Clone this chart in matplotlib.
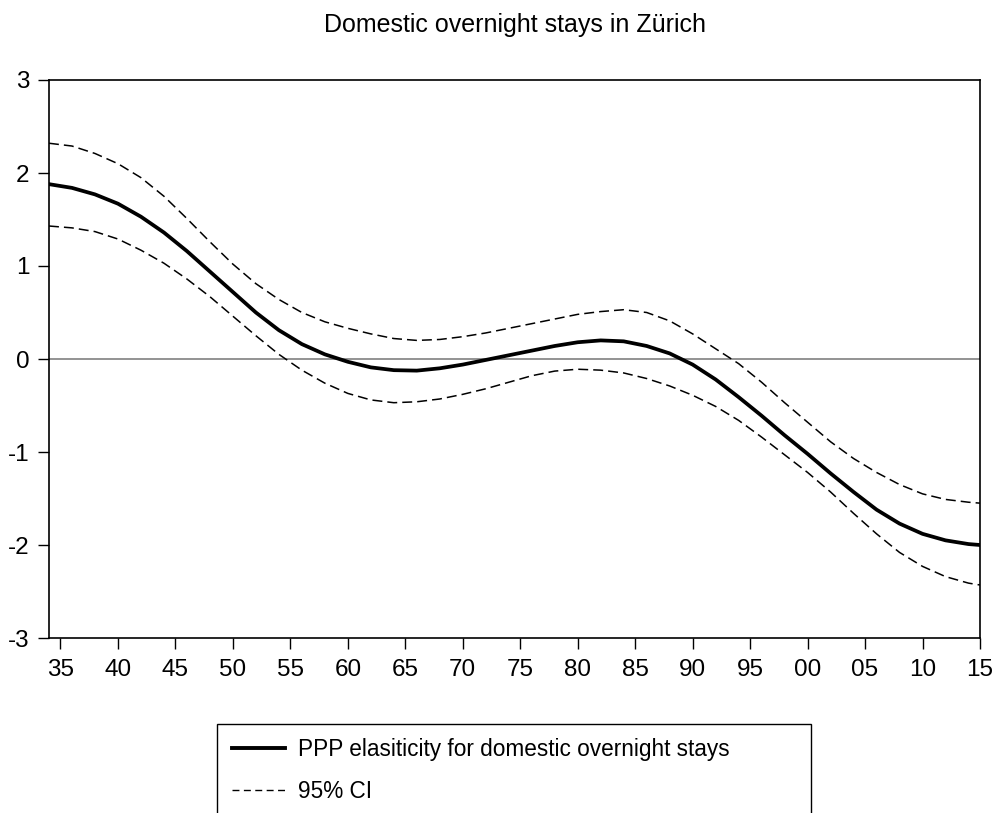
import matplotlib
matplotlib.use("Agg")
import matplotlib.pyplot as plt
from matplotlib.lines import Line2D
from matplotlib.patches import Rectangle

years = [1934, 1936, 1938, 1940, 1942, 1944, 1946, 1948, 1950, 1952, 1954, 1956, 1958, 1960,
         1962, 1964, 1966, 1968, 1970, 1972, 1974, 1976, 1978, 1980, 1982, 1984, 1986, 1988,
         1990, 1992, 1994, 1996, 1998, 2000, 2002, 2004, 2006, 2008, 2010, 2012, 2014, 2015]
elasticity = [1.88, 1.84, 1.77, 1.67, 1.53, 1.36, 1.16, 0.94, 0.72, 0.50, 0.31, 0.16, 0.05, -0.03,
              -0.09, -0.12, -0.125, -0.10, -0.06, -0.01, 0.04, 0.09, 0.14, 0.18, 0.20, 0.19, 0.14, 0.06,
              -0.06, -0.22, -0.41, -0.61, -0.82, -1.02, -1.23, -1.43, -1.62, -1.77, -1.88, -1.95, -1.99, -2.00]
ci_upper = [2.32, 2.29, 2.21, 2.10, 1.95, 1.75, 1.51, 1.26, 1.02, 0.81, 0.64, 0.50, 0.40, 0.33,
            0.27, 0.22, 0.20, 0.21, 0.24, 0.28, 0.33, 0.38, 0.43, 0.48, 0.51, 0.53, 0.50, 0.41,
            0.27, 0.11, -0.05, -0.25, -0.47, -0.68, -0.89, -1.07, -1.22, -1.35, -1.45, -1.51, -1.54, -1.55]
ci_lower = [1.43, 1.41, 1.37, 1.29, 1.17, 1.03, 0.86, 0.67, 0.46, 0.25, 0.05, -0.12, -0.26, -0.37,
            -0.44, -0.47, -0.46, -0.43, -0.38, -0.32, -0.25, -0.18, -0.13, -0.11, -0.12, -0.15, -0.21, -0.29,
            -0.39, -0.51, -0.66, -0.84, -1.03, -1.22, -1.43, -1.66, -1.88, -2.08, -2.23, -2.34, -2.41, -2.43]

xtick_years = list(range(1935, 2016, 5))
xtick_labels = ["35", "40", "45", "50", "55", "60", "65", "70", "75", "80", "85", "90", "95",
                "00", "05", "10", "15"]
yticks = [-3, -2, -1, 0, 1, 2, 3]

plt.rcParams['font.family'] = ['Liberation Sans', 'DejaVu Sans']

fig = plt.figure(figsize=(9.97, 8.13), dpi=100)
W, H = 997, 813
ax = fig.add_axes([49 / W, 1 - 638 / H, (980 - 49) / W, (638 - 80) / H])

ax.axhline(0, color='#808080', lw=1.2, zorder=1)
ax.plot(years, ci_upper, color='black', lw=1.1, linestyle=(0, (6.5, 3.3)), zorder=2)
ax.plot(years, ci_lower, color='black', lw=1.1, linestyle=(0, (6.5, 3.3)), zorder=2)
ax.plot(years, elasticity, color='black', lw=2.7, zorder=3, solid_joinstyle='round')

ax.set_xlim(1934, 2015)
ax.set_ylim(-3, 3)
ax.set_xticks(xtick_years)
ax.set_xticklabels(xtick_labels)
ax.set_yticks(yticks)
ax.set_yticklabels([str(v) for v in yticks])
ax.tick_params(axis='both', direction='out', length=8, width=1, labelsize=17.5, color='black')
ax.tick_params(axis='y', pad=6)
ax.tick_params(axis='x', pad=7)
for s in ax.spines.values():
    s.set_linewidth(1.2)
    s.set_color('black')

fig.text(515 / W, 1 - 32 / H, "Domestic overnight stays in Zürich", ha='center', va='baseline',
         fontsize=18)

handles = [Line2D([], [], color='black', lw=2.8),
           Line2D([], [], color='black', lw=1.0, linestyle=(0, (5, 3.2)))]
labels = ["PPP elasiticity for domestic overnight stays", "95% CI"]
leg = fig.legend(handles, labels, loc='upper left', bbox_to_anchor=(232 / W, 1 - 738 / H),
                 frameon=False, fontsize=16.3, handlelength=2.35, handletextpad=0.55,
                 borderpad=0, labelspacing=0.85, borderaxespad=0)
fig.add_artist(Rectangle((217 / W, -0.02), (811 - 217) / W, (1 - 724 / H) + 0.02,
                         transform=fig.transFigure, fill=False, edgecolor='black', lw=1.0))

fig.savefig("out.png", dpi=100)
